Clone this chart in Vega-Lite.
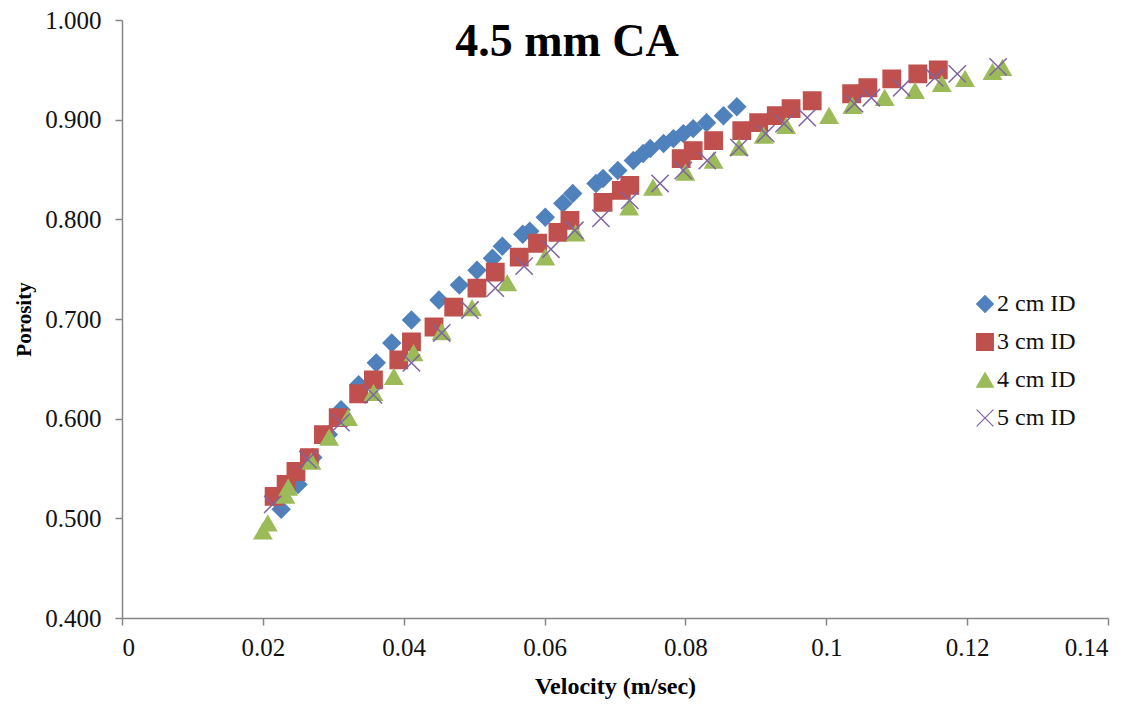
{
  "$schema": "https://vega.github.io/schema/vega-lite/v6.json",
  "width": 986,
  "height": 598,
  "autosize": {"type": "none"},
  "padding": {"left": 122, "top": 20, "right": 30, "bottom": 91},
  "background": "white",
  "title": {
    "text": "4.5 mm CA",
    "font": "Liberation Serif",
    "fontSize": 46,
    "fontWeight": "bold",
    "color": "#000000",
    "anchor": "middle",
    "baseline": "alphabetic",
    "offset": 0,
    "dx": -48,
    "dy": 94
  },
  "data": {
    "values": [
      {"v": 0.0226, "p": 0.509, "s": "2 cm ID"},
      {"v": 0.0250, "p": 0.534, "s": "2 cm ID"},
      {"v": 0.0271, "p": 0.561, "s": "2 cm ID"},
      {"v": 0.0293, "p": 0.584, "s": "2 cm ID"},
      {"v": 0.0311, "p": 0.609, "s": "2 cm ID"},
      {"v": 0.0336, "p": 0.634, "s": "2 cm ID"},
      {"v": 0.0361, "p": 0.656, "s": "2 cm ID"},
      {"v": 0.0383, "p": 0.676, "s": "2 cm ID"},
      {"v": 0.0411, "p": 0.699, "s": "2 cm ID"},
      {"v": 0.0450, "p": 0.719, "s": "2 cm ID"},
      {"v": 0.0479, "p": 0.734, "s": "2 cm ID"},
      {"v": 0.0504, "p": 0.749, "s": "2 cm ID"},
      {"v": 0.0526, "p": 0.761, "s": "2 cm ID"},
      {"v": 0.0540, "p": 0.773, "s": "2 cm ID"},
      {"v": 0.0569, "p": 0.785, "s": "2 cm ID"},
      {"v": 0.0579, "p": 0.788, "s": "2 cm ID"},
      {"v": 0.0601, "p": 0.802, "s": "2 cm ID"},
      {"v": 0.0626, "p": 0.816, "s": "2 cm ID"},
      {"v": 0.0640, "p": 0.826, "s": "2 cm ID"},
      {"v": 0.0673, "p": 0.836, "s": "2 cm ID"},
      {"v": 0.0683, "p": 0.841, "s": "2 cm ID"},
      {"v": 0.0704, "p": 0.849, "s": "2 cm ID"},
      {"v": 0.0726, "p": 0.859, "s": "2 cm ID"},
      {"v": 0.0740, "p": 0.866, "s": "2 cm ID"},
      {"v": 0.0750, "p": 0.871, "s": "2 cm ID"},
      {"v": 0.0769, "p": 0.876, "s": "2 cm ID"},
      {"v": 0.0783, "p": 0.881, "s": "2 cm ID"},
      {"v": 0.0797, "p": 0.886, "s": "2 cm ID"},
      {"v": 0.0811, "p": 0.891, "s": "2 cm ID"},
      {"v": 0.0830, "p": 0.897, "s": "2 cm ID"},
      {"v": 0.0854, "p": 0.904, "s": "2 cm ID"},
      {"v": 0.0873, "p": 0.913, "s": "2 cm ID"},

      {"v": 0.0216, "p": 0.522, "s": "3 cm ID"},
      {"v": 0.0233, "p": 0.534, "s": "3 cm ID"},
      {"v": 0.0247, "p": 0.547, "s": "3 cm ID"},
      {"v": 0.0266, "p": 0.561, "s": "3 cm ID"},
      {"v": 0.0286, "p": 0.584, "s": "3 cm ID"},
      {"v": 0.0307, "p": 0.601, "s": "3 cm ID"},
      {"v": 0.0336, "p": 0.625, "s": "3 cm ID"},
      {"v": 0.0357, "p": 0.639, "s": "3 cm ID"},
      {"v": 0.0393, "p": 0.659, "s": "3 cm ID"},
      {"v": 0.0411, "p": 0.677, "s": "3 cm ID"},
      {"v": 0.0443, "p": 0.692, "s": "3 cm ID"},
      {"v": 0.0471, "p": 0.712, "s": "3 cm ID"},
      {"v": 0.0504, "p": 0.731, "s": "3 cm ID"},
      {"v": 0.0530, "p": 0.747, "s": "3 cm ID"},
      {"v": 0.0564, "p": 0.762, "s": "3 cm ID"},
      {"v": 0.0590, "p": 0.776, "s": "3 cm ID"},
      {"v": 0.0619, "p": 0.787, "s": "3 cm ID"},
      {"v": 0.0636, "p": 0.799, "s": "3 cm ID"},
      {"v": 0.0683, "p": 0.817, "s": "3 cm ID"},
      {"v": 0.0709, "p": 0.829, "s": "3 cm ID"},
      {"v": 0.0721, "p": 0.834, "s": "3 cm ID"},
      {"v": 0.0794, "p": 0.861, "s": "3 cm ID"},
      {"v": 0.0811, "p": 0.869, "s": "3 cm ID"},
      {"v": 0.0840, "p": 0.879, "s": "3 cm ID"},
      {"v": 0.0880, "p": 0.889, "s": "3 cm ID"},
      {"v": 0.0904, "p": 0.897, "s": "3 cm ID"},
      {"v": 0.0929, "p": 0.904, "s": "3 cm ID"},
      {"v": 0.0950, "p": 0.911, "s": "3 cm ID"},
      {"v": 0.0980, "p": 0.919, "s": "3 cm ID"},
      {"v": 0.1036, "p": 0.926, "s": "3 cm ID"},
      {"v": 0.1059, "p": 0.932, "s": "3 cm ID"},
      {"v": 0.1093, "p": 0.941, "s": "3 cm ID"},
      {"v": 0.1130, "p": 0.946, "s": "3 cm ID"},
      {"v": 0.1159, "p": 0.950, "s": "3 cm ID"},

      {"v": 0.0200, "p": 0.487, "s": "4 cm ID"},
      {"v": 0.0207, "p": 0.495, "s": "4 cm ID"},
      {"v": 0.0232, "p": 0.523, "s": "4 cm ID"},
      {"v": 0.0236, "p": 0.531, "s": "4 cm ID"},
      {"v": 0.0269, "p": 0.557, "s": "4 cm ID"},
      {"v": 0.0294, "p": 0.581, "s": "4 cm ID"},
      {"v": 0.0321, "p": 0.601, "s": "4 cm ID"},
      {"v": 0.0357, "p": 0.626, "s": "4 cm ID"},
      {"v": 0.0386, "p": 0.642, "s": "4 cm ID"},
      {"v": 0.0414, "p": 0.666, "s": "4 cm ID"},
      {"v": 0.0454, "p": 0.687, "s": "4 cm ID"},
      {"v": 0.0497, "p": 0.711, "s": "4 cm ID"},
      {"v": 0.0547, "p": 0.736, "s": "4 cm ID"},
      {"v": 0.0601, "p": 0.762, "s": "4 cm ID"},
      {"v": 0.0644, "p": 0.786, "s": "4 cm ID"},
      {"v": 0.0720, "p": 0.812, "s": "4 cm ID"},
      {"v": 0.0754, "p": 0.832, "s": "4 cm ID"},
      {"v": 0.0800, "p": 0.847, "s": "4 cm ID"},
      {"v": 0.0840, "p": 0.859, "s": "4 cm ID"},
      {"v": 0.0876, "p": 0.872, "s": "4 cm ID"},
      {"v": 0.0911, "p": 0.884, "s": "4 cm ID"},
      {"v": 0.0943, "p": 0.894, "s": "4 cm ID"},
      {"v": 0.1004, "p": 0.904, "s": "4 cm ID"},
      {"v": 0.1037, "p": 0.914, "s": "4 cm ID"},
      {"v": 0.1083, "p": 0.922, "s": "4 cm ID"},
      {"v": 0.1126, "p": 0.929, "s": "4 cm ID"},
      {"v": 0.1164, "p": 0.936, "s": "4 cm ID"},
      {"v": 0.1197, "p": 0.941, "s": "4 cm ID"},
      {"v": 0.1236, "p": 0.948, "s": "4 cm ID"},
      {"v": 0.1250, "p": 0.952, "s": "4 cm ID"},

      {"v": 0.0214, "p": 0.514, "s": "5 cm ID"},
      {"v": 0.0264, "p": 0.559, "s": "5 cm ID"},
      {"v": 0.0311, "p": 0.596, "s": "5 cm ID"},
      {"v": 0.0357, "p": 0.624, "s": "5 cm ID"},
      {"v": 0.0411, "p": 0.656, "s": "5 cm ID"},
      {"v": 0.0454, "p": 0.686, "s": "5 cm ID"},
      {"v": 0.0494, "p": 0.709, "s": "5 cm ID"},
      {"v": 0.0530, "p": 0.731, "s": "5 cm ID"},
      {"v": 0.0571, "p": 0.753, "s": "5 cm ID"},
      {"v": 0.0609, "p": 0.770, "s": "5 cm ID"},
      {"v": 0.0643, "p": 0.789, "s": "5 cm ID"},
      {"v": 0.0680, "p": 0.801, "s": "5 cm ID"},
      {"v": 0.0721, "p": 0.819, "s": "5 cm ID"},
      {"v": 0.0764, "p": 0.836, "s": "5 cm ID"},
      {"v": 0.0797, "p": 0.849, "s": "5 cm ID"},
      {"v": 0.0831, "p": 0.859, "s": "5 cm ID"},
      {"v": 0.0876, "p": 0.872, "s": "5 cm ID"},
      {"v": 0.0914, "p": 0.886, "s": "5 cm ID"},
      {"v": 0.0940, "p": 0.896, "s": "5 cm ID"},
      {"v": 0.0973, "p": 0.902, "s": "5 cm ID"},
      {"v": 0.1040, "p": 0.916, "s": "5 cm ID"},
      {"v": 0.1064, "p": 0.922, "s": "5 cm ID"},
      {"v": 0.1107, "p": 0.932, "s": "5 cm ID"},
      {"v": 0.1154, "p": 0.942, "s": "5 cm ID"},
      {"v": 0.1186, "p": 0.946, "s": "5 cm ID"},
      {"v": 0.1244, "p": 0.953, "s": "5 cm ID"}
    ]
  },
  "mark": {"type": "point", "filled": true, "opacity": 1, "size": 300, "strokeWidth": 1.5},
  "encoding": {
    "x": {
      "field": "v",
      "type": "quantitative",
      "scale": {"domain": [0, 0.14], "nice": false, "zero": false},
      "axis": {
        "title": "Velocity (m/sec)",
        "values": [0, 0.02, 0.04, 0.06, 0.08, 0.1, 0.12, 0.14],
        "format": "~g",
        "grid": false,
        "domainColor": "#868686",
        "tickColor": "#868686",
        "domainWidth": 1.5,
        "tickWidth": 1.5,
        "tickSize": 7,
        "labelFont": "Liberation Serif",
        "labelFontSize": 25,
        "labelColor": "#111111",
        "labelPadding": 10,
        "titleFont": "Liberation Serif",
        "titleFontSize": 24,
        "titleFontWeight": "bold",
        "titleColor": "#000000",
        "titlePadding": 14
      }
    },
    "y": {
      "field": "p",
      "type": "quantitative",
      "scale": {"domain": [0.4, 1.0], "nice": false, "zero": false},
      "axis": {
        "title": "Porosity",
        "values": [0.4, 0.5, 0.6, 0.7, 0.8, 0.9, 1.0],
        "format": ".3f",
        "grid": false,
        "domainColor": "#868686",
        "tickColor": "#868686",
        "domainWidth": 1.5,
        "tickWidth": 1.5,
        "tickSize": 7,
        "labelFont": "Liberation Serif",
        "labelFontSize": 25,
        "labelColor": "#111111",
        "labelPadding": 14,
        "titleFont": "Liberation Serif",
        "titleFontSize": 21,
        "titleFontWeight": "bold",
        "titleColor": "#000000",
        "titlePadding": 10
      }
    },
    "fill": {
      "field": "s",
      "type": "nominal",
      "scale": {"domain": ["2 cm ID", "3 cm ID", "4 cm ID", "5 cm ID"], "range": ["#4F81BD", "#C0504D", "#9BBB59", "#8064A2"]},
      "legend": {
        "title": null,
        "orient": "none",
        "legendX": 851,
        "legendY": 272,
        "labelFont": "Liberation Serif",
        "labelFontSize": 24,
        "labelColor": "#111111",
        "labelOffset": 0,
        "symbolSize": 280,
        "symbolStrokeWidth": 1.2,
        "rowPadding": 14,
        "padding": 0
      }
    },
    "stroke": {
      "field": "s",
      "type": "nominal",
      "scale": {"domain": ["2 cm ID", "3 cm ID", "4 cm ID", "5 cm ID"], "range": ["#4F81BD", "#C0504D", "#9BBB59", "#8064A2"]},
      "legend": {
        "title": null,
        "orient": "none",
        "legendX": 851,
        "legendY": 272,
        "labelFont": "Liberation Serif",
        "labelFontSize": 24,
        "labelColor": "#111111",
        "labelOffset": 0,
        "symbolSize": 280,
        "symbolStrokeWidth": 1.2,
        "rowPadding": 14,
        "padding": 0
      }
    },
    "shape": {
      "field": "s",
      "type": "nominal",
      "scale": {"domain": ["2 cm ID", "3 cm ID", "4 cm ID", "5 cm ID"], "range": ["diamond", "square", "triangle-up", "M-1,-1L1,1M-1,1L1,-1"]},
      "legend": {
        "title": null,
        "orient": "none",
        "legendX": 851,
        "legendY": 272,
        "labelFont": "Liberation Serif",
        "labelFontSize": 24,
        "labelColor": "#111111",
        "labelOffset": 0,
        "symbolSize": 280,
        "symbolStrokeWidth": 1.2,
        "rowPadding": 14,
        "padding": 0
      }
    }
  },
  "config": {
    "view": {"stroke": null}
  }
}
